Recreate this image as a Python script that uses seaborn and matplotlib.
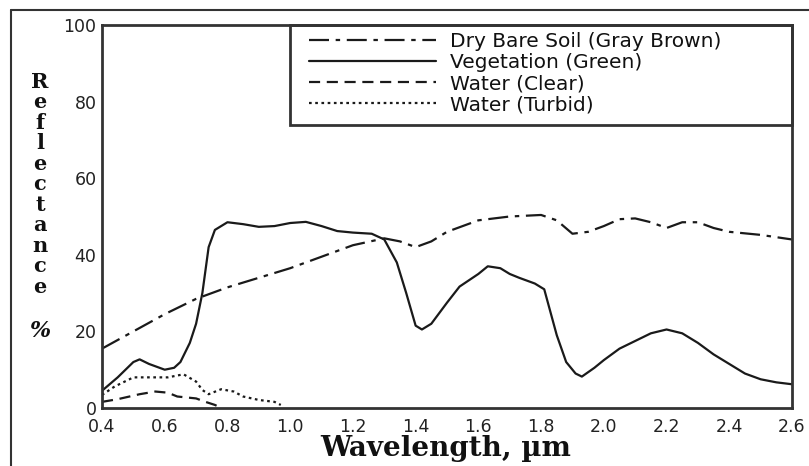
import matplotlib
matplotlib.use("Agg")
import matplotlib.pyplot as plt
import seaborn as sns
import numpy as np
from matplotlib.lines import Line2D
from matplotlib.patches import Rectangle

# ---- data ----
soil_x = [0.40, 0.50, 0.60, 0.70, 0.80, 0.90, 1.00, 1.10, 1.20, 1.30, 1.35, 1.40, 1.45, 1.50,
          1.60, 1.70, 1.80, 1.85, 1.90, 1.95, 2.00, 2.05, 2.10, 2.15, 2.20, 2.25, 2.30, 2.35,
          2.40, 2.50, 2.60]
soil_y = [15.5, 20.0, 24.5, 28.5, 31.5, 34.0, 36.5, 39.5, 42.5, 44.3, 43.5, 42.0, 43.5, 46.0,
          49.0, 50.0, 50.4, 49.0, 45.5, 46.0, 47.5, 49.3, 49.5, 48.5, 47.0, 48.5, 48.5, 47.0,
          46.0, 45.2, 44.0]

veg_x = [0.40, 0.45, 0.50, 0.52, 0.55, 0.60, 0.63, 0.65, 0.68, 0.70, 0.72, 0.74, 0.76, 0.80,
         0.85, 0.90, 0.95, 1.00, 1.05, 1.10, 1.15, 1.20, 1.26, 1.30, 1.34, 1.37, 1.40, 1.42,
         1.45, 1.50, 1.54, 1.60, 1.63, 1.67, 1.70, 1.73, 1.78, 1.81, 1.85, 1.88, 1.91, 1.93,
         1.97, 2.00, 2.05, 2.10, 2.15, 2.20, 2.25, 2.30, 2.35, 2.40, 2.45, 2.50, 2.55, 2.60]
veg_y = [4.5, 8.0, 12.0, 12.7, 11.5, 10.0, 10.5, 12.0, 17.0, 22.0, 30.0, 42.0, 46.5, 48.5,
         48.0, 47.3, 47.5, 48.3, 48.6, 47.5, 46.2, 45.8, 45.5, 44.0, 38.0, 30.0, 21.5, 20.5,
         22.0, 27.5, 31.7, 35.0, 37.0, 36.5, 35.0, 34.0, 32.5, 31.0, 19.0, 12.0, 9.0, 8.2,
         10.5, 12.5, 15.5, 17.5, 19.5, 20.5, 19.5, 17.0, 14.0, 11.5, 9.0, 7.5, 6.7, 6.2]

clear_x = [0.40, 0.45, 0.52, 0.57, 0.61, 0.64, 0.70, 0.73, 0.76, 0.78]
clear_y = [1.6, 2.3, 3.6, 4.3, 4.0, 3.0, 2.5, 1.6, 0.8, 0.0]

turbid_x = [0.40, 0.44, 0.50, 0.61, 0.66, 0.70, 0.72, 0.74, 0.78, 0.82, 0.85, 0.90, 0.95, 0.97]
turbid_y = [3.4, 5.6, 8.0, 8.0, 8.8, 6.9, 4.7, 3.6, 4.9, 4.3, 3.0, 2.1, 1.6, 0.8]

labels = ["Dry Bare Soil (Gray Brown)", "Vegetation (Green)", "Water (Clear)", "Water (Turbid)"]
x_ticks = [0.4, 0.6, 0.8, 1.0, 1.2, 1.4, 1.6, 1.8, 2.0, 2.2, 2.4, 2.6]
y_ticks = [0, 20, 40, 60, 80, 100]

# ---- styling ----
sns.set_theme(style="white")
plt.rcParams['font.family'] = ['DejaVu Sans']

W, H = 809, 466
fig = plt.figure(figsize=(W / 100, H / 100), dpi=100)
ax = fig.add_axes([102 / W, (H - 408) / H, (792 - 102) / W, (408 - 25) / H])

ink = "#1a1a1a"
lw = 1.6
styles = [(0, (9, 3, 2, 3)), "-", (0, (5, 3)), (0, (1.2, 1.6))]
series = [(soil_x, soil_y), (veg_x, veg_y), (clear_x, clear_y), (turbid_x, turbid_y)]
for (xs, ys), ls, lab in zip(series, styles, labels):
    sns.lineplot(x=xs, y=ys, ax=ax, color=ink, linewidth=lw, linestyle=ls, label=lab,
                 sort=False, legend=False)

ax.set_xlim(0.4, 2.6)
ax.set_ylim(0, 100)
ax.set_xticks(x_ticks)
ax.set_xticklabels([f"{v:.1f}" for v in x_ticks])
ax.set_yticks(y_ticks)
ax.set_yticklabels([str(v) for v in y_ticks])
ax.tick_params(axis='both', length=0, labelsize=12.5, colors="#222222")
ax.tick_params(axis='x', pad=7)
ax.tick_params(axis='y', pad=4)
for sp in ax.spines.values():
    sp.set_visible(True)
    sp.set_color("#333333")
    sp.set_linewidth(2)
ax.set_xlabel("")
ax.set_ylabel("")

# legend box
ax.add_patch(Rectangle((0.2725, 0.739), 1 - 0.2725, 1 - 0.739, transform=ax.transAxes,
                       fill=False, edgecolor="#333333", linewidth=2, zorder=5, clip_on=False))
handles = [Line2D([0], [0], color=ink, linewidth=lw, linestyle=s) for s in styles]
leg = ax.legend(handles, labels, loc="upper left", bbox_to_anchor=(0.29, 1.0),
                frameon=False, fontsize=14.5, handlelength=6.3, handletextpad=0.7,
                labelspacing=0.1, borderaxespad=0.1, borderpad=0.25)
for t in leg.get_texts():
    t.set_color("#111111")

# x label
fig.text(446 / W, 1 - 449 / H, "Wavelength, µm", ha="center", va="center",
         family="DejaVu Serif", fontweight="bold", fontsize=20, color="#111111")

# stacked y label
fig.text(40 / W, 1 - 72 / H, "\n".join("Reflectance"), ha="center", va="top",
         multialignment="center", family="DejaVu Serif", fontweight="bold",
         fontsize=15, linespacing=1.03, color="#111111")
fig.text(40 / W, 1 - 337 / H, "%", ha="center", va="baseline", family="DejaVu Serif",
         fontweight="bold", fontstyle="italic", fontsize=16, color="#111111")

# outer frame (left and top edges)
fig.add_artist(Line2D([11 / W, 11 / W], [0, 1 - 10 / H], transform=fig.transFigure,
                      color="#333333", linewidth=1.5))
fig.add_artist(Line2D([11 / W, 1], [1 - 10 / H, 1 - 10 / H], transform=fig.transFigure,
                      color="#333333", linewidth=1.5))

fig.savefig("out.png", dpi=100)
